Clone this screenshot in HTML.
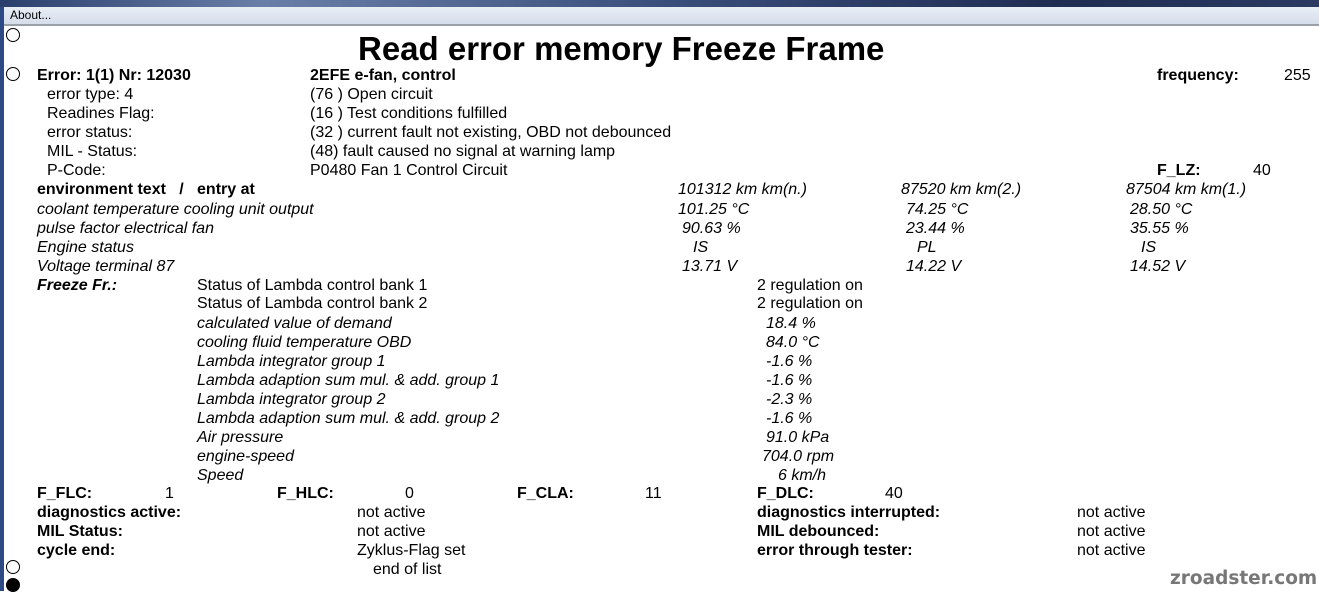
<!DOCTYPE html>
<html><head><meta charset="utf-8"><style>
body{margin:0;width:1319px;height:591px;overflow:hidden;background:#fff;position:relative;font-family:"Liberation Sans",Arial,sans-serif;font-size:16px;color:#000}
.t{position:absolute;white-space:nowrap;line-height:19px;margin-top:2px}
.b{font-weight:bold}
.i{font-style:italic}
.c{position:absolute;left:6px;width:14px;height:14px;border:1px solid #000;border-radius:50%;box-sizing:border-box;background:#fff}
</style></head><body>
<div style="position:absolute;left:0;top:0;width:1319px;height:7px;background:linear-gradient(90deg,#2a3f6c,#6a7fa8 20%,#3b4f7c 50%,#1f2d52 80%,#2a3a60)"></div>
<div style="position:absolute;left:0;top:7px;width:1319px;height:17px;background:linear-gradient(#e9eef6,#d6deeb);border-bottom:2px solid #9aa0a8"></div>
<div class="t" style="left:10px;top:5px;font-size:12px;line-height:17px">About...</div>
<div style="position:absolute;left:0;top:7px;width:4px;height:584px;background:#2c4a86"></div>
<div class="c" style="top:28px"></div>
<div class="c" style="top:67px"></div>
<div class="c" style="top:560px"></div>
<div class="c" style="top:578px;background:#000"></div>
<div class="t b" style="left:358px;top:28px;font-size:33px;line-height:38px">Read error memory Freeze Frame</div>

<div class="t b" style="left:37px;top:64px">Error: 1(1) Nr: 12030</div>
<div class="t b" style="left:310px;top:64px">2EFE e-fan, control</div>
<div class="t b" style="left:1157px;top:64px">frequency:</div>
<div class="t" style="left:1284px;top:64px">255</div>
<div class="t" style="left:47px;top:83px">error type: 4</div><div class="t" style="left:310px;top:83px">(76 ) Open circuit</div>
<div class="t" style="left:47px;top:102px">Readines Flag:</div><div class="t" style="left:310px;top:102px">(16 ) Test conditions fulfilled</div>
<div class="t" style="left:47px;top:121px">error status:</div><div class="t" style="left:310px;top:121px">(32 ) current fault not existing, OBD not debounced</div>
<div class="t" style="left:47px;top:140px">MIL - Status:</div><div class="t" style="left:310px;top:140px">(48) fault caused no signal at warning lamp</div>
<div class="t" style="left:47px;top:159px">P-Code:</div><div class="t" style="left:310px;top:159px">P0480 Fan 1 Control Circuit</div>
<div class="t b" style="left:1157px;top:159px">F_LZ:</div><div class="t" style="left:1253px;top:159px">40</div>

<div class="t b" style="left:37px;top:178px">environment text &nbsp;&nbsp;/&nbsp;&nbsp; entry at</div>
<div class="t i" style="left:678px;top:178px">101312 km km(n.)</div>
<div class="t i" style="left:901px;top:178px">87520 km km(2.)</div>
<div class="t i" style="left:1126px;top:178px">87504 km km(1.)</div>
<div class="t i" style="left:37px;top:198px">coolant temperature cooling unit output</div>
<div class="t i" style="left:678px;top:198px">101.25 °C</div><div class="t i" style="left:906px;top:198px">74.25 °C</div><div class="t i" style="left:1130px;top:198px">28.50 °C</div>
<div class="t i" style="left:37px;top:217px">pulse factor electrical fan</div>
<div class="t i" style="left:682px;top:217px">90.63 %</div><div class="t i" style="left:906px;top:217px">23.44 %</div><div class="t i" style="left:1130px;top:217px">35.55 %</div>
<div class="t i" style="left:37px;top:236px">Engine status</div>
<div class="t i" style="left:693px;top:236px">IS</div><div class="t i" style="left:917px;top:236px">PL</div><div class="t i" style="left:1141px;top:236px">IS</div>
<div class="t i" style="left:37px;top:255px">Voltage terminal 87</div>
<div class="t i" style="left:682px;top:255px">13.71 V</div><div class="t i" style="left:906px;top:255px">14.22 V</div><div class="t i" style="left:1130px;top:255px">14.52 V</div>

<div class="t b i" style="left:37px;top:274px">Freeze Fr.:</div>
<div class="t" style="left:197px;top:274px">Status of Lambda control bank 1</div><div class="t" style="left:757px;top:274px">2 regulation on</div>
<div class="t" style="left:197px;top:292px">Status of Lambda control bank 2</div><div class="t" style="left:757px;top:292px">2 regulation on</div>
<div class="t i" style="left:197px;top:312px">calculated value of demand</div><div class="t i" style="left:766px;top:312px">18.4 %</div>
<div class="t i" style="left:197px;top:331px">cooling fluid temperature OBD</div><div class="t i" style="left:766px;top:331px">84.0 °C</div>
<div class="t i" style="left:197px;top:350px">Lambda integrator group 1</div><div class="t i" style="left:766px;top:350px">-1.6 %</div>
<div class="t i" style="left:197px;top:369px">Lambda adaption sum mul. &amp; add. group 1</div><div class="t i" style="left:766px;top:369px">-1.6 %</div>
<div class="t i" style="left:197px;top:388px">Lambda integrator group 2</div><div class="t i" style="left:766px;top:388px">-2.3 %</div>
<div class="t i" style="left:197px;top:407px">Lambda adaption sum mul. &amp; add. group 2</div><div class="t i" style="left:766px;top:407px">-1.6 %</div>
<div class="t i" style="left:197px;top:426px">Air pressure</div><div class="t i" style="left:766px;top:426px">91.0 kPa</div>
<div class="t i" style="left:197px;top:445px">engine-speed</div><div class="t i" style="left:762px;top:445px">704.0 rpm</div>
<div class="t i" style="left:197px;top:464px">Speed</div><div class="t i" style="left:778px;top:464px">6 km/h</div>

<div class="t b" style="left:37px;top:482px">F_FLC:</div><div class="t" style="left:165px;top:482px">1</div>
<div class="t b" style="left:277px;top:482px">F_HLC:</div><div class="t" style="left:405px;top:482px">0</div>
<div class="t b" style="left:517px;top:482px">F_CLA:</div><div class="t" style="left:645px;top:482px">11</div>
<div class="t b" style="left:757px;top:482px">F_DLC:</div><div class="t" style="left:885px;top:482px">40</div>
<div class="t b" style="left:37px;top:501px">diagnostics active:</div><div class="t" style="left:357px;top:501px">not active</div>
<div class="t b" style="left:757px;top:501px">diagnostics interrupted:</div><div class="t" style="left:1077px;top:501px">not active</div>
<div class="t b" style="left:37px;top:520px">MIL Status:</div><div class="t" style="left:357px;top:520px">not active</div>
<div class="t b" style="left:757px;top:520px">MIL debounced:</div><div class="t" style="left:1077px;top:520px">not active</div>
<div class="t b" style="left:37px;top:539px">cycle end:</div><div class="t" style="left:357px;top:539px">Zyklus-Flag set</div>
<div class="t b" style="left:757px;top:539px">error through tester:</div><div class="t" style="left:1077px;top:539px">not active</div>
<div class="t" style="left:373px;top:558px">end of list</div>
<div class="t b" style="left:1170px;top:567px;font-family:'DejaVu Sans',sans-serif;font-size:18.5px;color:#777">zroadster.com</div>
</body></html>
